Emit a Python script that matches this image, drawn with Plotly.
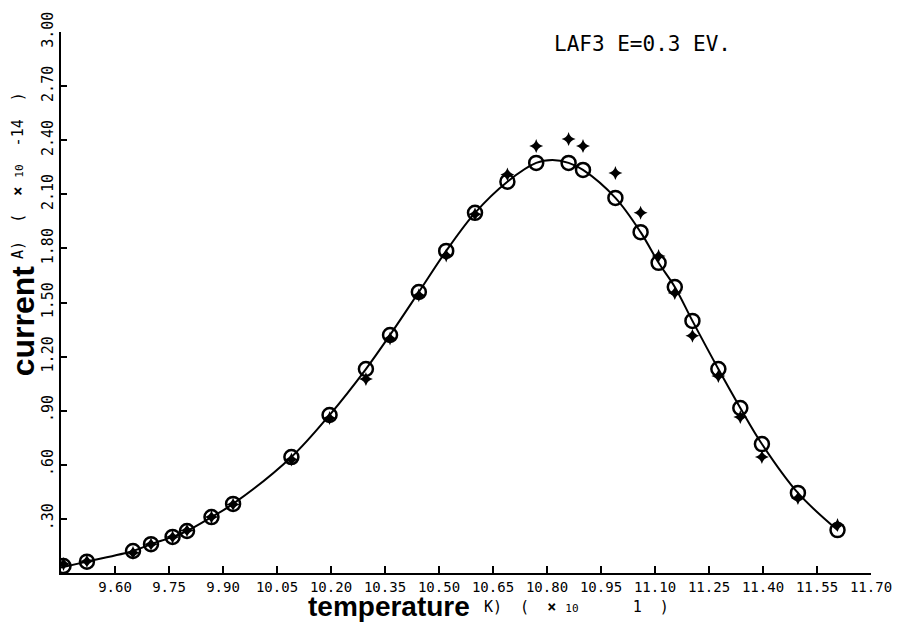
import plotly.graph_objects as go

# Temperature (K, x10^1) and current (A, x10^-14)
temp = [9.457, 9.522, 9.65, 9.70, 9.76, 9.80, 9.868, 9.928, 10.09, 10.196,
        10.297, 10.364, 10.444, 10.52, 10.60, 10.69, 10.77, 10.86, 10.90, 10.99,
        11.06, 11.11, 11.155, 11.204, 11.276, 11.337, 11.397, 11.497, 11.607]
current_circle = [0.039, 0.063, 0.122, 0.16, 0.20, 0.233, 0.31, 0.383, 0.643, 0.876,
                  1.131, 1.32, 1.558, 1.786, 1.997, 2.17, 2.274, 2.274, 2.235, 2.08,
                  1.89, 1.72, 1.586, 1.398, 1.131, 0.915, 0.715, 0.444, 0.238]
current_plus = [0.05, 0.065, 0.112, 0.16, 0.20, 0.235, 0.31, 0.38, 0.63, 0.86,
                1.076, 1.30, 1.54, 1.76, 1.99, 2.21, 2.368, 2.407, 2.368, 2.218,
                1.997, 1.758, 1.553, 1.315, 1.093, 0.865, 0.643, 0.416, 0.266]

# fitted curve
fit_t = [9.45, 9.522, 9.65, 9.70, 9.76, 9.80, 9.868, 9.928, 10.09, 10.196,
         10.297, 10.364, 10.444, 10.52, 10.60, 10.69, 10.77, 10.815, 10.86, 10.90,
         10.99, 11.06, 11.11, 11.155, 11.204, 11.276, 11.337, 11.397, 11.497, 11.607]
fit_i = [0.03, 0.063, 0.122, 0.16, 0.20, 0.233, 0.31, 0.383, 0.643, 0.876,
         1.131, 1.32, 1.558, 1.786, 1.997, 2.17, 2.274, 2.29, 2.274, 2.235,
         2.08, 1.89, 1.72, 1.586, 1.398, 1.131, 0.915, 0.715, 0.444, 0.238]

x_ticks = [9.60, 9.75, 9.90, 10.05, 10.20, 10.35, 10.50, 10.65, 10.80, 10.95,
           11.10, 11.25, 11.40, 11.55, 11.70]
x_tick_text = ["9.60", "9.75", "9.90", "10.05", "10.20", "10.35", "10.50", "10.65",
               "10.80", "10.95", "11.10", "11.25", "11.40", "11.55", "11.70"]
y_ticks = [0.30, 0.60, 0.90, 1.20, 1.50, 1.80, 2.10, 2.40, 2.70, 3.00]
y_tick_text = [".30", ".60", ".90", "1.20", "1.50", "1.80", "2.10", "2.40", "2.70", "3.00"]

MONO = "DejaVu Sans Mono"
BOLD = "Liberation Sans"

fig = go.Figure()
fig.add_trace(go.Scatter(x=fit_t, y=fit_i, mode="lines", line=dict(color="black", width=2, shape="spline", smoothing=1.0),
                         hoverinfo="skip", showlegend=False))
fig.add_trace(go.Scatter(x=temp, y=current_plus, mode="markers",
                         marker=dict(symbol="star-diamond", size=10, color="black", line=dict(width=0)),
                         showlegend=False))
fig.add_trace(go.Scatter(x=temp, y=current_circle, mode="markers",
                         marker=dict(symbol="circle-open", size=14, color="black", line=dict(width=2.5, color="black")),
                         showlegend=False))

fig.update_layout(
    width=904, height=623,
    margin=dict(l=60.5, r=27, t=31, b=50),
    paper_bgcolor="white", plot_bgcolor="white",
    showlegend=False,
    xaxis=dict(range=[9.45, 11.70], tickvals=x_ticks, ticktext=x_tick_text,
               showgrid=False, zeroline=False, showline=True, linecolor="black", linewidth=2,
               ticks="inside", ticklen=7, tickwidth=2, tickcolor="black", ticklabelstandoff=0,
               tickfont=dict(family=MONO, size=14, color="black")),
    yaxis=dict(range=[0, 3.0], tickvals=y_ticks, ticktext=y_tick_text, tickangle=-90,
               showgrid=False, zeroline=False, showline=True, linecolor="black", linewidth=2,
               ticks="inside", ticklen=6, tickwidth=2, tickcolor="black",
               tickfont=dict(family=MONO, size=15, color="black")),
    annotations=[
        dict(text="LAF3 E=0.3 EV.", xref="paper", yref="paper", x=0.606, y=0.978,
             xanchor="left", yanchor="middle", showarrow=False,
             font=dict(family=MONO, size=21, color="black")),
        dict(text="<b>current</b>", xref="paper", yref="paper", x=-0.047, y=0.467,
             xanchor="center", yanchor="middle", textangle=-90, showarrow=False,
             font=dict(family=BOLD, size=32, color="black")),
        dict(text="A)  (  <b>×</b> <span style='font-size:11px'>10</span>  -14  )", xref="paper", yref="paper",
             x=-0.053, y=0.734, xanchor="center", yanchor="middle", textangle=-90, showarrow=False,
             font=dict(family=MONO, size=15, color="black")),
        dict(text="<b>temperature</b>", xref="paper", yref="paper", x=0.405, y=-0.062,
             xanchor="center", yanchor="middle", showarrow=False,
             font=dict(family=BOLD, size=28, color="black")),
        dict(text="K)  (  <b>×</b> <span style='font-size:11px'>10</span>      1  )", xref="paper", yref="paper",
             x=0.636, y=-0.063, xanchor="center", yanchor="middle", showarrow=False,
             font=dict(family=MONO, size=15, color="black")),
    ],
)

fig.write_html("out.html")
